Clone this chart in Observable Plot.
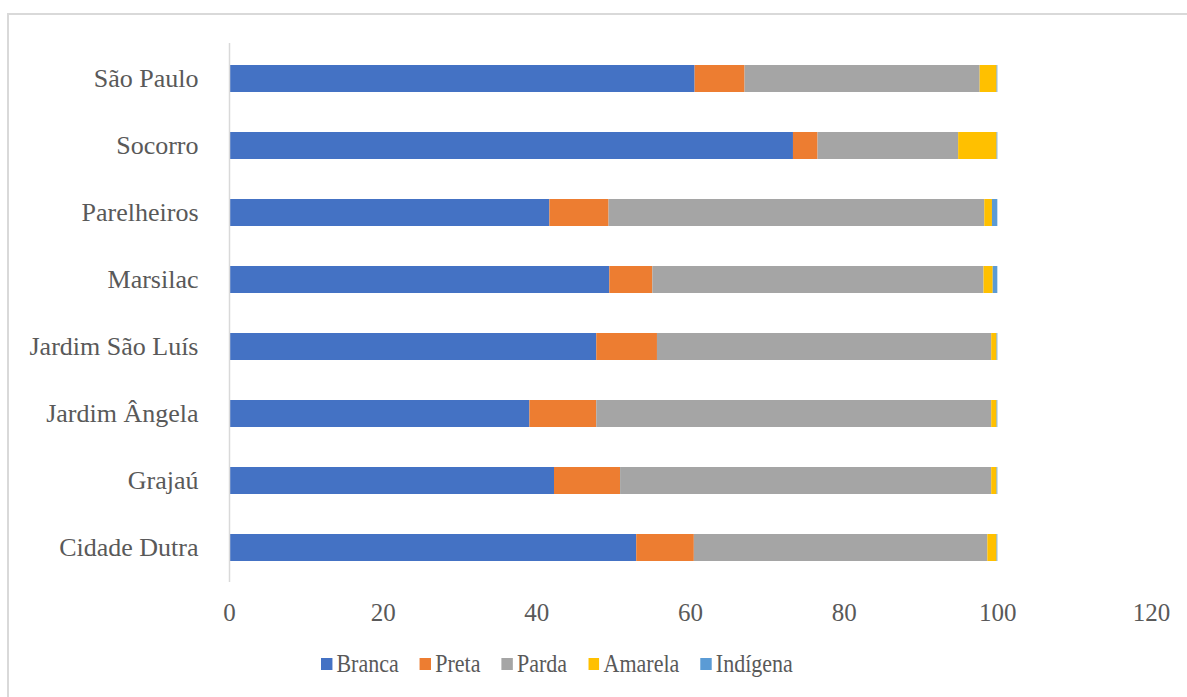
<!DOCTYPE html>
<html>
<head>
<meta charset="utf-8">
<script src="https://cdn.jsdelivr.net/npm/d3@7"></script>
<script src="https://cdn.jsdelivr.net/npm/@observablehq/plot@0.6"></script>
<style>
  html, body { margin: 0; padding: 0; background: #fff; overflow: hidden; }
  body { width: 1187px; height: 697px; position: relative; font-family: "Liberation Serif", "Times New Roman", serif; }
  #frame { position: absolute; left: 7px; top: 13px; width: 1200px; height: 700px; border: 2px solid #d9d9d9; box-sizing: border-box; }
  #chart { position: absolute; left: 0; top: 0; }
  #legend { position: absolute; left: 321px; top: 650px; display: flex; align-items: center; font-size: 25px; color: #595959; white-space: nowrap; transform: scaleX(0.88); transform-origin: 0 50%; }
  .item { display: flex; align-items: center; margin-right: 24px; }
  .sw { width: 12.5px; height: 12.5px; margin-right: 5px; }
</style>
</head>
<body>
<div id="frame"></div>
<div id="chart"></div>
<div id="legend"></div>
<script>
const categories = ["São Paulo", "Socorro", "Parelheiros", "Marsilac", "Jardim São Luís", "Jardim Ângela", "Grajaú", "Cidade Dutra"];
const seriesNames = ["Branca", "Preta", "Parda", "Amarela", "Indígena"];
const branca   = [60.6, 73.4, 41.7, 49.5, 47.8, 39.1, 42.3, 53.0];
const preta    = [6.5, 3.2, 7.7, 5.6, 7.9, 8.7, 8.6, 7.5];
const parda    = [30.6, 18.3, 48.9, 43.1, 43.5, 51.4, 48.3, 38.2];
const amarela  = [2.2, 5.0, 1.0, 1.2, 0.7, 0.7, 0.7, 1.2];
const indigena = [0.1, 0.1, 0.7, 0.6, 0.1, 0.1, 0.1, 0.1];
const xTicks = [0, 20, 40, 60, 80, 100, 120];
const colors = ["#4472C4", "#ED7D31", "#A5A5A5", "#FFC000", "#5B9BD5"];

const seriesValues = [branca, preta, parda, amarela, indigena];
const rows = [];
categories.forEach((c, i) => {
  seriesNames.forEach((s, j) => rows.push({ bairro: c, raca: s, valor: seriesValues[j][i] }));
});

const chart = Plot.plot({
  width: 1187,
  height: 640,
  marginLeft: 229,
  marginRight: 36,
  marginTop: 43,
  marginBottom: 58,
  style: { fontFamily: "'Liberation Serif', 'Times New Roman', serif", color: "#595959", background: "transparent" },
  x: { domain: [0, 120], ticks: xTicks, label: null },
  y: { domain: categories, paddingInner: 0.6, paddingOuter: 0.3, label: null },
  color: { domain: seriesNames, range: colors },
  marks: [
    Plot.barX(rows, Plot.stackX({ y: "bairro", x: "valor", fill: "raca", order: seriesNames })),
    Plot.ruleX([0], { stroke: "#d9d9d9", strokeWidth: 1.5 }),
    Plot.axisX({ ticks: xTicks, tickSize: 0, tickPadding: 21, fontSize: 25, label: null }),
    Plot.axisY({ tickSize: 0, tickPadding: 31, fontSize: 26, label: null })
  ]
});
document.getElementById("chart").appendChild(chart);

const legend = document.getElementById("legend");
seriesNames.forEach((s, j) => {
  const item = document.createElement("div");
  item.className = "item";
  const sw = document.createElement("div");
  sw.className = "sw";
  sw.style.background = colors[j];
  const t = document.createElement("span");
  t.textContent = s;
  item.appendChild(sw);
  item.appendChild(t);
  legend.appendChild(item);
});
</script>
</body>
</html>
